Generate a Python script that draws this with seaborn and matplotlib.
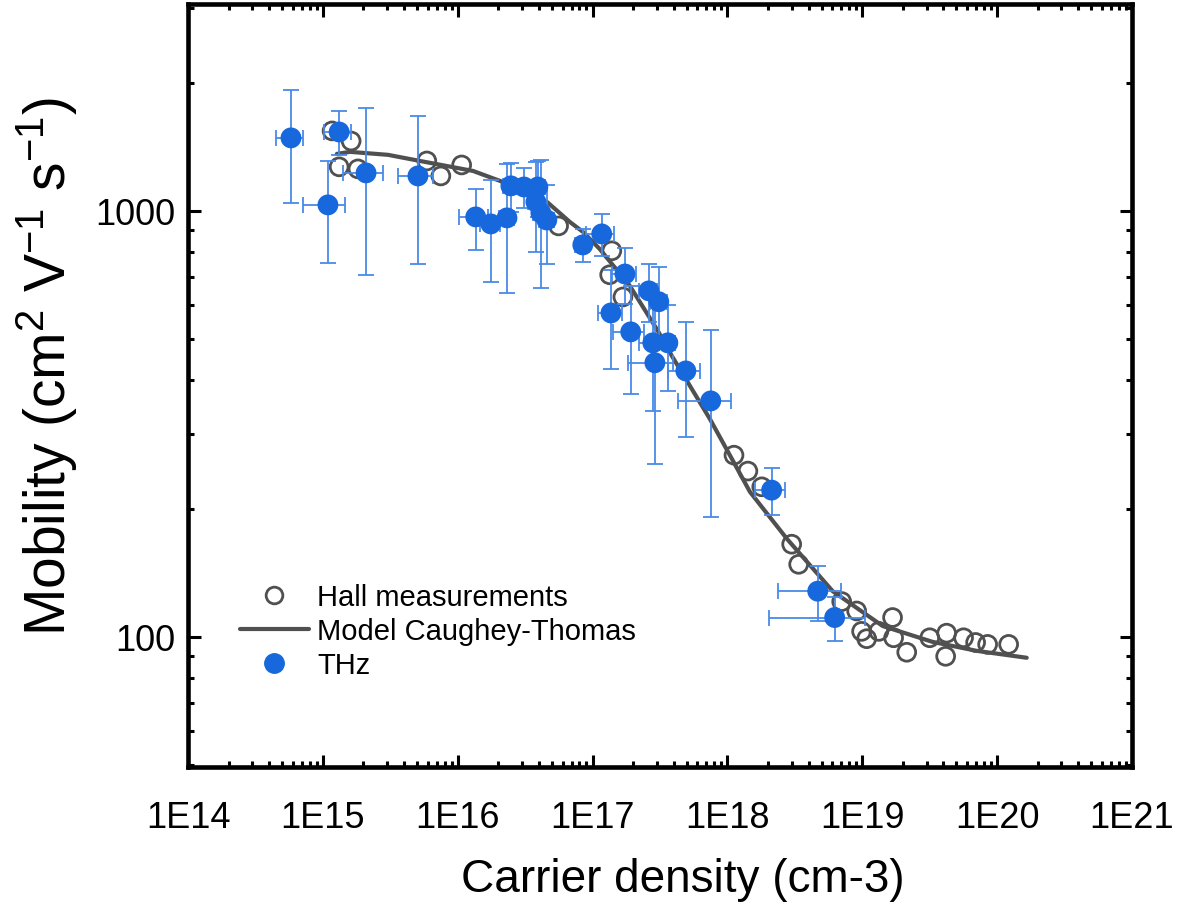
import numpy as np
import pandas as pd
import seaborn as sns
import matplotlib.pyplot as plt
from matplotlib.lines import Line2D
from matplotlib.ticker import LogLocator, NullFormatter, FixedLocator, FixedFormatter

# Hall measurements (open circles)
hall_density = [1.17e15, 1.62e15, 1.32e15, 1.82e15, 5.9e15, 7.5e15, 1.07e16, 5.6e16,
                1.39e17, 1.34e17, 1.68e17, 1.12e18, 1.42e18, 1.80e18, 3.0e18, 3.38e18,
                7.05e18, 9.1e18, 9.9e18, 1.08e19, 1.33e19, 1.68e19, 1.71e19, 2.14e19,
                3.17e19, 4.23e19, 4.16e19, 5.65e19, 6.94e19, 8.52e19, 1.22e20]
hall_mobility = [1541, 1459, 1269, 1255, 1310, 1208, 1282, 922,
                 806, 708, 628, 267, 245, 225, 165, 148,
                 121, 115, 103, 99, 103, 111, 99.5, 92,
                 99.5, 102, 90, 99.5, 97, 96, 96]

# Caughey-Thomas model curve
model_density = [1.27e15, 1.59e15, 3.04e15, 5.25e15, 1.30e16, 2.06e16, 4.59e16, 6.79e16,
                 8.48e16, 1.13e17, 1.89e17, 3.05e17, 3.87e17, 7.41e17, 1.10e18, 1.47e18,
                 2.76e18, 6.04e18, 1.42e19, 3.33e19, 7.06e19, 1.66e20]
model_mobility = [1361, 1376, 1354, 1310, 1241, 1176, 1050, 942,
                  893, 814, 667, 523, 457, 325, 259, 219,
                  170, 128, 106, 97.3, 92.7, 89.3]

# THz (filled circles with error bars)
thz_density = [5.8e14, 1.32e15, 1.09e15, 2.09e15, 5.07e15, 1.36e16, 1.76e16, 2.32e16,
               2.48e16, 3.10e16, 3.93e16, 3.80e16, 4.14e16, 4.58e16, 8.47e16, 1.17e17,
               1.74e17, 2.62e17, 3.10e17, 1.37e17, 1.92e17, 2.80e17, 3.62e17, 2.90e17,
               4.92e17, 7.53e17, 2.13e18, 4.68e18, 6.25e18]
thz_mobility = [1484, 1532, 1033, 1228, 1208, 968, 932, 963,
                1145, 1138, 1138, 1050, 989, 952, 832, 883,
                711, 649, 612, 576, 520, 490, 490, 440,
                421, 358, 221, 128, 111]
thz_density_err = [1.3e14, 0.3e15, 0.38e15, 0.69e15, 1.47e15, 0.33e16, 0.3e16, 0.3e16,
                   0.3e16, 0.4e16, 0.5e16, 0.5e16, 0.5e16, 0.6e16, 0.1e17, 0.27e17,
                   0.35e17, 0.4e17, 0.45e17, 0.28e17, 0.5e17, 0.6e17, 0.5e17, 1.07e17,
                   1.3e17, 3.2e17, 0.53e18, 2.3e18, 4.2e18]
thz_mobility_err = [440, 180, 280, 520, 458, 158, 250, 323,
                    150, 120, 170, 250, 330, 200, 75, 100,
                    108, 100, 127, 150, 148, 151, 112, 185,
                    127, 167, 28, 19, 13]

x_ticks = [1e14, 1e15, 1e16, 1e17, 1e18, 1e19, 1e20, 1e21]
x_tick_labels = ['1E14', '1E15', '1E16', '1E17', '1E18', '1E19', '1E20', '1E21']
y_ticks = [100, 1000]
y_tick_labels = ['100', '1000']

hall = pd.DataFrame({'density': hall_density, 'mobility': hall_mobility})
model = pd.DataFrame({'density': model_density, 'mobility': model_mobility})
thz = pd.DataFrame({'density': thz_density, 'mobility': thz_mobility})

sns.set_theme(style="ticks")
plt.rcParams['font.family'] = ['Liberation Sans', 'DejaVu Sans']
plt.rcParams['mathtext.default'] = 'regular'
plt.rcParams['text.color'] = 'black'

blue = '#1768dd'
gray = '#505050'

fig, ax = plt.subplots(figsize=(11.79, 9.12), dpi=100)
fig.subplots_adjust(left=0.1595, right=0.960, bottom=0.158, top=0.9945)
ax.set_xscale('log')
ax.set_yscale('log')

sns.scatterplot(data=hall, x='density', y='mobility', s=165, facecolors='none',
                edgecolor=gray, linewidth=2.0, ax=ax, zorder=2)
sns.lineplot(data=model, x='density', y='mobility', color=gray, linewidth=3,
             sort=False, ax=ax, zorder=3)
ax.errorbar(thz_density, thz_mobility, xerr=thz_density_err, yerr=thz_mobility_err,
            fmt='none', ecolor='#4a8ae8', elinewidth=1.3, capsize=6, capthick=1.3, zorder=4)
sns.scatterplot(data=thz, x='density', y='mobility', s=225, color=blue,
                edgecolor='none', ax=ax, zorder=5)

ax.set_xlim(1e14, 1e21)
ax.set_ylim(49.5, 3060)

ax.xaxis.set_major_locator(FixedLocator(x_ticks))
ax.xaxis.set_major_formatter(FixedFormatter(x_tick_labels))
ax.xaxis.set_minor_locator(LogLocator(base=10, subs=np.arange(2, 10), numticks=100))
ax.xaxis.set_minor_formatter(NullFormatter())
ax.yaxis.set_major_locator(FixedLocator(y_ticks))
ax.yaxis.set_major_formatter(FixedFormatter(y_tick_labels))
ax.yaxis.set_minor_locator(LogLocator(base=10, subs=np.arange(2, 10), numticks=100))
ax.yaxis.set_minor_formatter(NullFormatter())

ax.tick_params(which='both', direction='in', top=True, right=True, width=2.2, color='black',
               labelsize=26, labelcolor='black')
ax.tick_params(which='major', length=9)
ax.tick_params(which='minor', length=4.5)
ax.tick_params(axis='x', which='major', pad=24)
ax.tick_params(axis='y', which='major', pad=9)
for sp in ax.spines.values():
    sp.set_linewidth(3.3)
    sp.set_color('black')

ax.set_xlabel('Carrier density (cm-3)', fontsize=33, color='black')
ax.set_ylabel(r'Mobility (cm$^{2}$ V$^{-1}$ s$^{-1}$)', fontsize=41, color='black')
ax.xaxis.set_label_coords(0.524, -0.118)
ax.yaxis.set_label_coords(-0.115, 0.5256)

handles = [
    Line2D([], [], marker='o', linestyle='none', markersize=12, markerfacecolor='none',
           markeredgecolor=gray, markeredgewidth=2.0),
    Line2D([], [], color=gray, linewidth=3),
    Line2D([], [], marker='o', linestyle='none', markersize=14, color=blue),
]
labels = ['Hall measurements', 'Model Caughey-Thomas', 'THz']
leg = ax.legend(handles, labels, loc='center left', bbox_to_anchor=(0.055, 0.178),
                frameon=False, fontsize=21, handlelength=2.35, handletextpad=0.3,
                labelspacing=0.2, borderpad=0, borderaxespad=0)
for t in leg.get_texts():
    t.set_color('black')

fig.savefig('out.png', dpi=100)
